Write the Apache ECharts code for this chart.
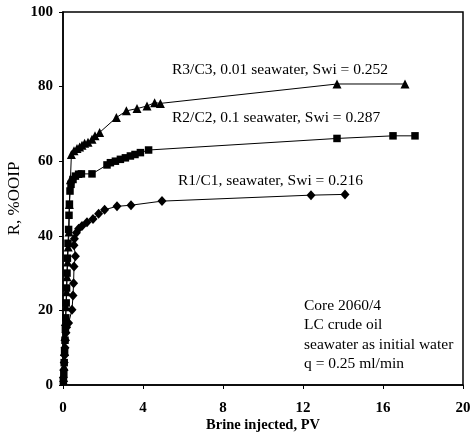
<!DOCTYPE html>
<html>
<head>
<meta charset="utf-8">
<script src="https://cdn.jsdelivr.net/npm/echarts@6/dist/echarts.min.js"></script>
<style>html,body{margin:0;padding:0;background:#fff}#c{width:472px;height:439px}</style>
</head>
<body>
<div id="c"></div>
<script>
const xTicks = [0, 4, 8, 12, 16, 20];
const yTicks = [0, 20, 40, 60, 80, 100];

const r3x = [0.03,0.05,0.07,0.1,0.12,0.15,0.18,0.2,0.23,0.26,0.3,0.32,0.37,0.42,0.55,0.7,0.83,0.95,1.08,1.25,1.45,1.6,1.83,2.67,3.17,3.7,4.2,4.58,4.87,13.7,17.1];
const r3y = [2,5,9,13,17,21,25,29,33,37,41,48.4,55,61.8,62.8,63.4,63.8,64.3,64.8,65.1,65.9,66.8,67.7,71.7,73.5,74.1,74.8,75.7,75.5,80.7,80.7];

const r2x = [0.02,0.04,0.06,0.08,0.1,0.12,0.14,0.16,0.18,0.2,0.22,0.25,0.28,0.3,0.32,0.35,0.4,0.5,0.62,0.78,0.92,1.45,2.2,2.37,2.62,2.87,3.12,3.37,3.6,3.87,4.28,13.7,16.5,17.6];
const r2y = [1,3,6,9,12,15,18,22,26,30,34,38,41.7,45.5,48.5,52,53.8,55.1,56,56.5,56.6,56.6,59,59.6,60,60.5,60.9,61.4,61.8,62.3,63,66.1,66.8,66.8];

const r1x = [0.02,0.04,0.06,0.08,0.1,0.12,0.15,0.18,0.28,0.45,0.5,0.53,0.55,0.62,0.55,0.57,0.67,0.78,0.95,1.2,1.5,1.78,2.08,2.7,3.4,4.95,12.4,14.1];
const r1y = [2,4,6,8,10,12,14,15.5,16.6,20.2,24,27.3,31.8,34.5,37.5,39.2,40.8,41.9,42.6,43.6,44.5,45.9,47,47.9,48.2,49.3,50.9,51.1];

const seriesNames = ["R3/C3, 0.01 seawater, Swi = 0.252", "R2/C2, 0.1 seawater, Swi = 0.287", "R1/C1, seawater, Swi = 0.216"];
const noteLines = ["Core 2060/4", "LC crude oil", "seawater as initial water", "q = 0.25 ml/min"];

const zip = (xs, ys) => xs.map((x, i) => [x, ys[i]]);
const FONT = "Liberation Serif";
const TF = '15.5px "' + FONT + '"';

const chart = echarts.init(document.getElementById('c'), null, {renderer: 'canvas'});
const mkSeries = (name, data, symbol, size) => ({
  name, type: 'line', data, symbol, symbolSize: size, showSymbol: true,
  lineStyle: {color: '#000', width: 1}, itemStyle: {color: '#000'},
  emphasis: {disabled: true}, animation: false
});

chart.setOption({
  animation: false,
  grid: {left: 63, right: 9, top: 12, bottom: 54, show: true, borderColor: '#000', borderWidth: 1.5,
         containLabel: false, outerBoundsMode: 'none'},
  xAxis: {
    type: 'value', min: xTicks[0], max: xTicks[xTicks.length - 1], interval: 4,
    name: 'Brine injected, PV', nameLocation: 'middle', nameGap: 33, nameMoveOverlap: false,
    nameTextStyle: {fontFamily: FONT, fontWeight: 'bold', fontSize: 14.5, color: '#000'},
    axisLine: {show: true, lineStyle: {color: '#000', width: 1.5}},
    axisTick: {show: true, length: 4, lineStyle: {color: '#000'}},
    axisLabel: {fontFamily: FONT, fontWeight: 'bold', fontSize: 15, color: '#000', margin: 16},
    splitLine: {show: false}
  },
  yAxis: {
    type: 'value', min: yTicks[0], max: yTicks[yTicks.length - 1], interval: 20,
    name: 'R, %OOIP', nameLocation: 'middle', nameGap: 40, nameMoveOverlap: false,
    nameTextStyle: {fontFamily: FONT, fontSize: 17, color: '#000'},
    axisLine: {show: true, lineStyle: {color: '#000', width: 1.5}},
    axisTick: {show: true, length: 4, lineStyle: {color: '#000'}},
    axisLabel: {fontFamily: FONT, fontWeight: 'bold', fontSize: 15, color: '#000', margin: 10},
    splitLine: {show: false}
  },
  series: [
    mkSeries(seriesNames[0], zip(r3x, r3y), 'triangle', 9),
    mkSeries(seriesNames[1], zip(r2x, r2y), 'rect', 7.5),
    mkSeries(seriesNames[2], zip(r1x, r1y), 'diamond', [9, 10])
  ],
  graphic: [
    {type: 'text', left: 172, top: 62, style: {text: seriesNames[0], font: TF, fill: '#000'}},
    {type: 'text', left: 172, top: 110, style: {text: seriesNames[1], font: TF, fill: '#000'}},
    {type: 'text', left: 178, top: 173, style: {text: seriesNames[2], font: TF, fill: '#000'}},
    {type: 'text', left: 304, top: 296, style: {text: noteLines.join('\n'), font: TF, lineHeight: 19.5, fill: '#000'}}
  ]
});
</script>
</body>
</html>
